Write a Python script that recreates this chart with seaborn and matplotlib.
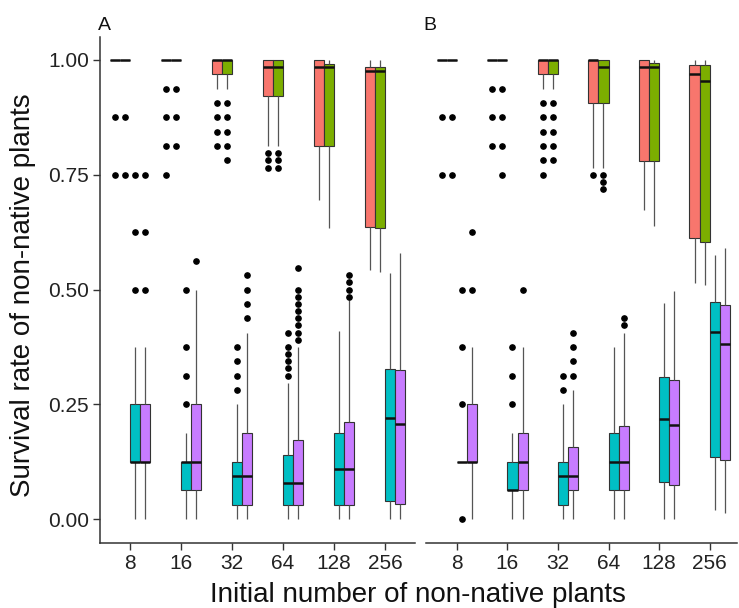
import numpy as np
import pandas as pd
import matplotlib
matplotlib.use("Agg")
import matplotlib.pyplot as plt
import seaborn as sns

# ---------------- data ----------------
cats = ["8", "16", "32", "64", "128", "256"]
groups = ["Group 1", "Group 2", "Group 3", "Group 4"]
colors = ["#F8766D", "#7CAE00", "#00BFC4", "#C77CFF"]
panels = ["A", "B"]
y_ticks = [0.0, 0.25, 0.5, 0.75, 1.0]
y_tick_labels = ["0.00", "0.25", "0.50", "0.75", "1.00"]

# box summaries per category: (lower whisker, Q1, median, Q3, upper whisker)
A_red = [(1, 1, 1, 1, 1), (1, 1, 1, 1, 1), (.9375, .96875, 1, 1, 1),
         (.8125, .921875, .984375, 1, 1), (.6953, .8125, .984375, 1, 1),
         (.5425, .637, .976, .9855, 1)]
A_red_out = [[.875, .75], [.9375, .875, .8125, .75], [.90625, .875, .84375, .8125],
             [.796875, .78125, .765625], [], []]
A_green = [(1, 1, 1, 1, 1), (1, 1, 1, 1, 1), (.9375, .96875, 1, 1, 1),
           (.8125, .921875, .984375, 1, 1), (.635, .8125, .984375, .9921875, 1),
           (.539, .633, .975, .985, 1)]
A_green_out = [[.875, .75], [.9375, .875, .8125], [.90625, .875, .84375, .8125, .78125],
               [.796875, .78125, .765625], [], []]
A_teal = [(0, .125, .125, .25, .375), (0, .0625, .125, .125, .1875),
          (0, .03125, .09375, .125, .25), (0, .03125, .078125, .140625, .296875),
          (0, .03125, .109375, .1875, .41), (0, .040, .2207, .326, .536)]
A_teal_out = [[.5, .625, .75], [.25, .3125, .375, .5], [.28125, .3125, .34375, .375],
              [.3125, .328125, .34375, .359375, .375, .40625], [], []]
A_purple = [(0, .125, .125, .25, .375), (0, .0625, .125, .25, .5),
            (0, .03125, .09375, .1875, .40625), (0, .03125, .078125, .171875, .375),
            (0, .03125, .109375, .2109375, .4765625), (0, .034, .207, .3246, .58)]
A_purple_out = [[.5, .625, .75], [.5625], [.4375, .46875, .5, .53125],
                [.390625, .40625, .421875, .4375, .453125, .46875, .484375, .5, .546875],
                [.484375, .5, .515625, .53125], []]

B_red = [(1, 1, 1, 1, 1), (1, 1, 1, 1, 1), (.9375, .96875, 1, 1, 1),
         (.765625, .90625, 1, 1, 1), (.673, .78, .985, 1, 1),
         (.514, .6115, .969, .989, 1)]
B_red_out = [[.875, .75], [.9375, .875, .8125], [.90625, .875, .84375, .8125, .78125, .75],
             [.75], [], []]
B_green = [(1, 1, 1, 1, 1), (1, 1, 1, 1, 1), (.9375, .96875, 1, 1, 1),
           (.765625, .90625, .984375, 1, 1), (.638, .78, .985, .993, 1),
           (.509, .604, .955, .989, 1)]
B_green_out = [[.875, .75], [.9375, .875, .8125, .75], [.90625, .875, .84375, .8125, .78125],
               [.75, .734375, .71875], [], []]
B_teal = [(.125, .125, .125, .125, .125), (0, .0625, .0625, .125, .1875),
          (0, .03125, .09375, .125, .25), (0, .0625, .125, .1875, .375),
          (0, .0813, .219, .31, .47), (.02, .136, .408, .4735, .575)]
B_teal_out = [[0, .25, .375, .5], [.25, .3125, .375], [.28125, .3125], [], [], []]
B_purple = [(0, .125, .125, .25, .375), (0, .0625, .125, .1875, .375),
            (0, .0625, .09375, .15625, .28125), (0, .0625, .125, .203125, .40625),
            (0, .074, .2048, .304, .497), (.0125, .1285, .381, .466, .59)]
B_purple_out = [[.5, .625], [.5], [.3125, .34375, .375, .40625], [.421875, .4375], [], []]

summaries = {"A": [A_red, A_green, A_teal, A_purple],
             "B": [B_red, B_green, B_teal, B_purple]}
outliers = {"A": [A_red_out, A_green_out, A_teal_out, A_purple_out],
            "B": [B_red_out, B_green_out, B_teal_out, B_purple_out]}

# ---------------- build long-form samples reproducing each box ----------------
K = 40
rows = []
for p in panels:
    for g, summ, outs in zip(groups, summaries[p], outliers[p]):
        for c, (lo, q1, med, q3, hi), out in zip(cats, summ, outs):
            vals = [lo] + [q1] * K + [med] * K + [q3] * K + [hi] + list(out)
            for v in vals:
                rows.append((p, c, g, v))
df = pd.DataFrame(rows, columns=["panel", "n", "group", "rate"])

# ---------------- plotting ----------------
sns.set_theme(style="white")
plt.rcParams["font.family"] = ["Liberation Sans", "DejaVu Sans"]

W, H = 739, 608
fig = plt.figure(figsize=(W / 100, H / 100), dpi=100)
axes = {
    "A": fig.add_axes([100 / W, 65 / H, 315 / W, 506 / H]),
    "B": fig.add_axes([426 / W, 65 / H, 311 / W, 506 / H]),
}
xlims = {"A": (-0.59, 5.59), "B": (-0.61, 5.54)}
dark = "#333333"

for p in panels:
    ax = axes[p]
    sns.boxplot(
        data=df[df.panel == p], x="n", y="rate", hue="group",
        order=cats, hue_order=groups, palette=colors, ax=ax,
        width=0.8, dodge=True, gap=0, saturation=1, linecolor=dark, linewidth=0.8,
        showcaps=False, fliersize=3.8, legend=False,
        flierprops=dict(marker="o", markerfacecolor="black",
                        markeredgecolor="black", markersize=3.8),
        medianprops=dict(color="#111111", linewidth=1.8),
        whiskerprops=dict(color="#555555", linewidth=0.9),
        boxprops=dict(edgecolor=dark, linewidth=0.8),
    )
    ax.set_xlim(*xlims[p])
    ax.set_ylim(-0.052, 1.05)
    ax.set_xlabel("")
    ax.set_ylabel("")
    for s in ["top", "right"]:
        ax.spines[s].set_visible(False)
    ax.spines["bottom"].set_color(dark)
    ax.spines["bottom"].set_linewidth(1.1)
    ax.tick_params(axis="x", direction="out", length=5, width=1, color=dark,
                   labelsize=15, labelcolor="#222222", pad=3, bottom=True)
    if p == "A":
        ax.spines["left"].set_color(dark)
        ax.spines["left"].set_linewidth(1.1)
        ax.set_yticks(y_ticks)
        ax.set_yticklabels(y_tick_labels)
        ax.tick_params(axis="y", direction="out", length=5, width=1, color=dark,
                       labelsize=15, labelcolor="#222222", pad=3, left=True)
    else:
        ax.spines["left"].set_visible(False)
        ax.set_yticks([])
    ax.text(-0.008, 1.005, p, transform=ax.transAxes, fontsize=14, ha="left",
            va="bottom", color="#111111")

fig.text(23 / W, 1 - 295 / H, "Survival rate of non-native plants", rotation=90,
         ha="center", va="center", fontsize=20, color="#111111")
fig.text(418 / W, 1 - 602 / H, "Initial number of non-native plants",
         ha="center", va="baseline", fontsize=20, color="#111111")

fig.savefig("out.png", dpi=100, facecolor="white")
